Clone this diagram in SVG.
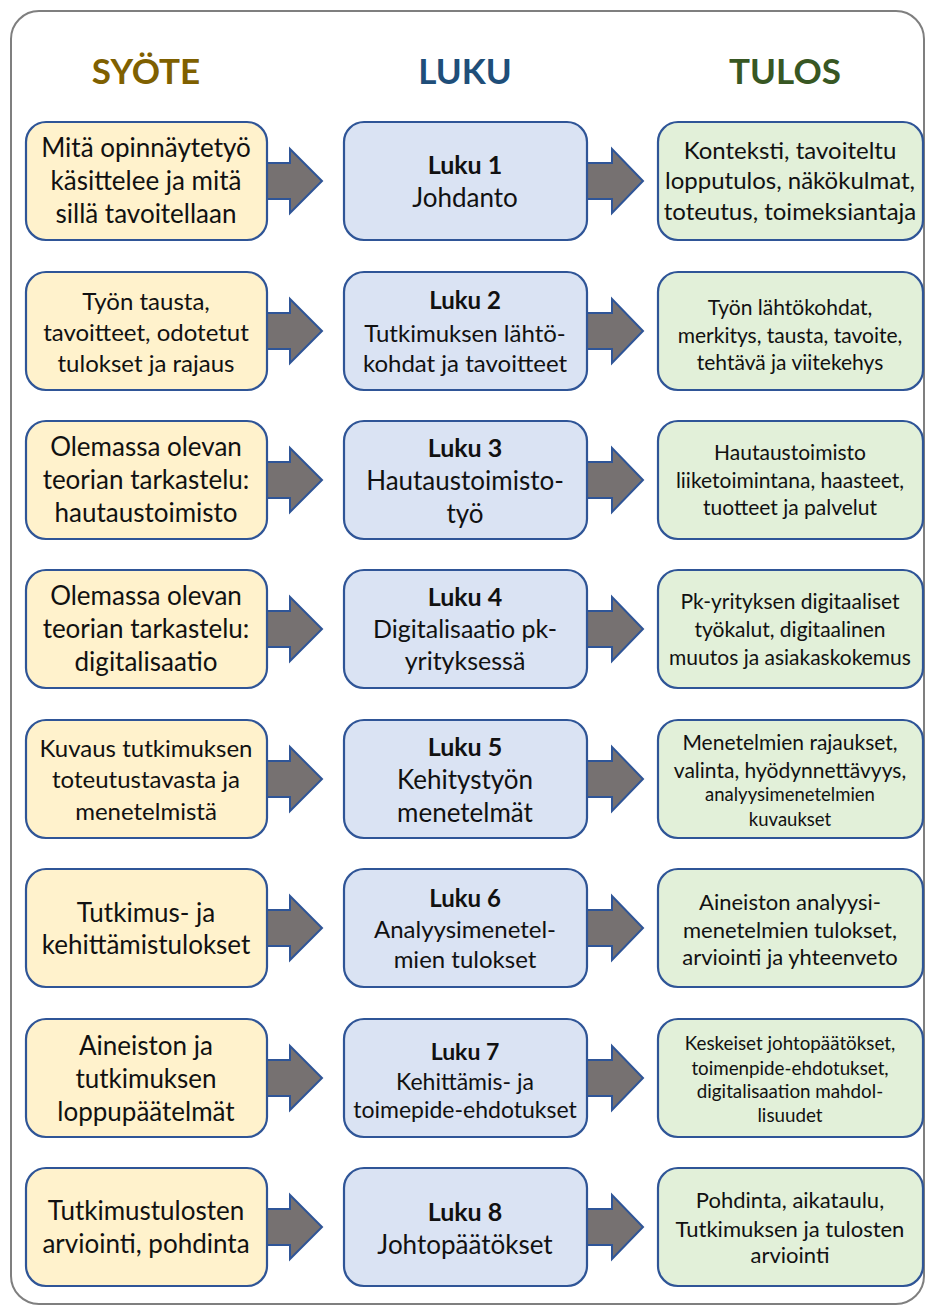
<svg xmlns="http://www.w3.org/2000/svg" width="926" height="1309" viewBox="0 0 926 1309">
<style>
.frame{fill:#fff;stroke:#7f7f7f;stroke-width:2}
.box{stroke:#2f5597;stroke-width:2.2}
.in{fill:#fff2cc}
.ch{fill:#dae3f3}
.out{fill:#e2f0d9}
.arr{fill:#767171;stroke:#2f5597;stroke-width:2;stroke-linejoin:miter}
text{font-family:Lato,"Open Sans","Liberation Sans",sans-serif;fill:#111;text-anchor:middle}
.hd{font-weight:bold;font-size:35px}
.b{font-weight:bold}
</style>
<rect class="frame" x="11" y="11" width="913" height="1293" rx="28"/>
<g id="headers">
<text class="hd" x="146" y="84" style="fill:#7f6000">SYÖTE</text>
<text class="hd" x="465" y="84" style="fill:#1f4e79">LUKU</text>
<text class="hd" x="785" y="84" style="fill:#385723">TULOS</text>
</g>
<g id="connectors">
<polygon class="arr" points="260,163 290,163 290,149 322,181 290,213 290,199 260,199"/>
<polygon class="arr" points="580,163 612,163 612,149 643,181 612,213 612,199 580,199"/>
<polygon class="arr" points="260,313 290,313 290,299 322,331 290,363 290,349 260,349"/>
<polygon class="arr" points="580,313 612,313 612,299 643,331 612,363 612,349 580,349"/>
<polygon class="arr" points="260,462 290,462 290,448 322,480 290,512 290,498 260,498"/>
<polygon class="arr" points="580,462 612,462 612,448 643,480 612,512 612,498 580,498"/>
<polygon class="arr" points="260,611 290,611 290,597 322,629 290,661 290,647 260,647"/>
<polygon class="arr" points="580,611 612,611 612,597 643,629 612,661 612,647 580,647"/>
<polygon class="arr" points="260,761 290,761 290,747 322,779 290,811 290,797 260,797"/>
<polygon class="arr" points="580,761 612,761 612,747 643,779 612,811 612,797 580,797"/>
<polygon class="arr" points="260,910 290,910 290,896 322,928 290,960 290,946 260,946"/>
<polygon class="arr" points="580,910 612,910 612,896 643,928 612,960 612,946 580,946"/>
<polygon class="arr" points="260,1060 290,1060 290,1046 322,1078 290,1110 290,1096 260,1096"/>
<polygon class="arr" points="580,1060 612,1060 612,1046 643,1078 612,1110 612,1096 580,1096"/>
<polygon class="arr" points="260,1209 290,1209 290,1195 322,1227 290,1259 290,1245 260,1245"/>
<polygon class="arr" points="580,1209 612,1209 612,1195 643,1227 612,1259 612,1245 580,1245"/>
</g>

<g id="in1"><rect class="box in" x="26" y="122" width="241" height="118" rx="20"/>
<text font-size="26"><tspan x="146" y="157">Mitä opinnäytetyö</tspan><tspan x="146" y="190">käsittelee ja mitä</tspan><tspan x="146" y="223">sillä tavoitellaan</tspan></text></g>
<g id="ch1"><rect class="box ch" x="344" y="122" width="243" height="118" rx="20"/>
<text font-size="25"><tspan class="b" x="465" y="174">Luku 1</tspan><tspan x="465" y="207" font-size="26">Johdanto</tspan></text></g>
<g id="out1"><rect class="box out" x="658" y="122" width="265" height="118" rx="20"/>
<text font-size="24"><tspan x="790" y="159">Konteksti, tavoiteltu</tspan><tspan x="790" y="189">lopputulos, näkökulmat,</tspan><tspan x="790" y="220">toteutus, toimeksiantaja</tspan></text></g>

<g id="in2"><rect class="box in" x="26" y="272" width="241" height="118" rx="20"/>
<text font-size="24"><tspan x="146" y="310">Työn tausta,</tspan><tspan x="146" y="341">tavoitteet, odotetut</tspan><tspan x="146" y="372">tulokset ja rajaus</tspan></text></g>
<g id="ch2"><rect class="box ch" x="344" y="272" width="243" height="118" rx="20"/>
<text font-size="24"><tspan class="b" x="465" y="309">Luku 2</tspan><tspan x="465" y="342">Tutkimuksen lähtö-</tspan><tspan x="465" y="372">kohdat ja tavoitteet</tspan></text></g>
<g id="out2"><rect class="box out" x="658" y="272" width="265" height="118" rx="20"/>
<text font-size="21"><tspan x="790" y="315">Työn lähtökohdat,</tspan><tspan x="790" y="343">merkitys, tausta, tavoite,</tspan><tspan x="790" y="370">tehtävä ja viitekehys</tspan></text></g>

<g id="in3"><rect class="box in" x="26" y="421" width="241" height="118" rx="20"/>
<text font-size="26"><tspan x="146" y="456">Olemassa olevan</tspan><tspan x="146" y="489">teorian tarkastelu:</tspan><tspan x="146" y="522">hautaustoimisto</tspan></text></g>
<g id="ch3"><rect class="box ch" x="344" y="421" width="243" height="118" rx="20"/>
<text font-size="25"><tspan class="b" x="465" y="457">Luku 3</tspan><tspan x="465" y="490" font-size="26">Hautaustoimisto-</tspan><tspan x="465" y="523" font-size="26">työ</tspan></text></g>
<g id="out3"><rect class="box out" x="658" y="421" width="265" height="118" rx="20"/>
<text font-size="21"><tspan x="790" y="460">Hautaustoimisto</tspan><tspan x="790" y="488">liiketoimintana, haasteet,</tspan><tspan x="790" y="515">tuotteet ja palvelut</tspan></text></g>

<g id="in4"><rect class="box in" x="26" y="570" width="241" height="118" rx="20"/>
<text font-size="26"><tspan x="146" y="605">Olemassa olevan</tspan><tspan x="146" y="638">teorian tarkastelu:</tspan><tspan x="146" y="671">digitalisaatio</tspan></text></g>
<g id="ch4"><rect class="box ch" x="344" y="570" width="243" height="118" rx="20"/>
<text font-size="25"><tspan class="b" x="465" y="606">Luku 4</tspan><tspan x="465" y="638">Digitalisaatio pk-</tspan><tspan x="465" y="670">yrityksessä</tspan></text></g>
<g id="out4"><rect class="box out" x="658" y="570" width="265" height="118" rx="20"/>
<text font-size="21"><tspan x="790" y="609">Pk-yrityksen digitaaliset</tspan><tspan x="790" y="637">työkalut, digitaalinen</tspan><tspan x="790" y="665">muutos ja asiakaskokemus</tspan></text></g>

<g id="in5"><rect class="box in" x="26" y="720" width="241" height="118" rx="20"/>
<text font-size="24"><tspan x="146" y="757">Kuvaus tutkimuksen</tspan><tspan x="146" y="788">toteutustavasta ja</tspan><tspan x="146" y="820">menetelmistä</tspan></text></g>
<g id="ch5"><rect class="box ch" x="344" y="720" width="243" height="118" rx="20"/>
<text font-size="25"><tspan class="b" x="465" y="756">Luku 5</tspan><tspan x="465" y="789" font-size="26">Kehitystyön</tspan><tspan x="465" y="822" font-size="26">menetelmät</tspan></text></g>
<g id="out5"><rect class="box out" x="658" y="720" width="265" height="118" rx="20"/>
<text font-size="21"><tspan x="790" y="750">Menetelmien rajaukset,</tspan><tspan x="790" y="778">valinta, hyödynnettävyys,</tspan><tspan x="790" y="801" font-size="18.5">analyysimenetelmien</tspan><tspan x="790" y="826" font-size="18.5">kuvaukset</tspan></text></g>

<g id="in6"><rect class="box in" x="26" y="869" width="241" height="118" rx="20"/>
<text font-size="26"><tspan x="146" y="922">Tutkimus- ja</tspan><tspan x="146" y="954">kehittämistulokset</tspan></text></g>
<g id="ch6"><rect class="box ch" x="344" y="869" width="243" height="118" rx="20"/>
<text font-size="24"><tspan class="b" x="465" y="907">Luku 6</tspan><tspan x="465" y="938">Analyysimenetel-</tspan><tspan x="465" y="968">mien tulokset</tspan></text></g>
<g id="out6"><rect class="box out" x="658" y="869" width="265" height="118" rx="20"/>
<text font-size="22"><tspan x="790" y="910">Aineiston analyysi-</tspan><tspan x="790" y="938">menetelmien tulokset,</tspan><tspan x="790" y="965">arviointi ja yhteenveto</tspan></text></g>

<g id="in7"><rect class="box in" x="26" y="1019" width="241" height="118" rx="20"/>
<text font-size="26"><tspan x="146" y="1055">Aineiston ja</tspan><tspan x="146" y="1088">tutkimuksen</tspan><tspan x="146" y="1121">loppupäätelmät</tspan></text></g>
<g id="ch7"><rect class="box ch" x="344" y="1019" width="243" height="118" rx="20"/>
<text font-size="23"><tspan class="b" x="465" y="1060">Luku 7</tspan><tspan x="465" y="1090">Kehittämis- ja</tspan><tspan x="465" y="1118">toimepide-ehdotukset</tspan></text></g>
<g id="out7"><rect class="box out" x="658" y="1019" width="265" height="118" rx="20"/>
<text font-size="18.8"><tspan x="790" y="1050">Keskeiset johtopäätökset,</tspan><tspan x="790" y="1075">toimenpide-ehdotukset,</tspan><tspan x="790" y="1098">digitalisaation mahdol-</tspan><tspan x="790" y="1122">lisuudet</tspan></text></g>

<g id="in8"><rect class="box in" x="26" y="1168" width="241" height="118" rx="20"/>
<text font-size="26"><tspan x="146" y="1220">Tutkimustulosten</tspan><tspan x="146" y="1253">arviointi, pohdinta</tspan></text></g>
<g id="ch8"><rect class="box ch" x="344" y="1168" width="243" height="118" rx="20"/>
<text font-size="25"><tspan class="b" x="465" y="1221">Luku 8</tspan><tspan x="465" y="1254" font-size="26">Johtopäätökset</tspan></text></g>
<g id="out8"><rect class="box out" x="658" y="1168" width="265" height="118" rx="20"/>
<text font-size="22"><tspan x="790" y="1208">Pohdinta, aikataulu,</tspan><tspan x="790" y="1237">Tutkimuksen ja tulosten</tspan><tspan x="790" y="1263">arviointi</tspan></text></g>
</svg>
